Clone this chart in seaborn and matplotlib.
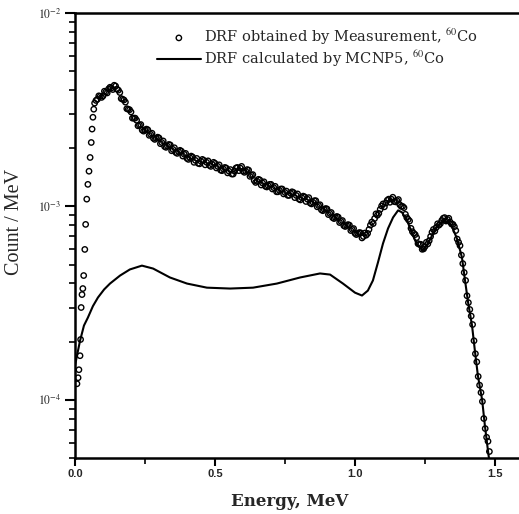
import matplotlib
matplotlib.use("Agg")
import matplotlib.pyplot as plt
import matplotlib.ticker as mticker
import seaborn as sns
import pandas as pd
import numpy as np

# ---- data (Count / MeV, stored in units of 1e-4) ----
# measured channels (first set)
meas_energy = [
    0.007, 0.011, 0.014, 0.018, 0.020, 0.022, 0.025, 0.028, 0.031, 0.035,
    0.038, 0.042, 0.046, 0.050, 0.054, 0.058, 0.061, 0.064, 0.067, 0.070, 0.075,
    0.08, 0.09, 0.10, 0.11, 0.12, 0.13, 0.14, 0.15, 0.16, 0.17,
    0.18, 0.19, 0.20, 0.21, 0.22, 0.23, 0.24, 0.25, 0.26, 0.27,
    0.28, 0.29, 0.30, 0.31, 0.32, 0.33, 0.34, 0.35, 0.36, 0.37,
    0.38, 0.39, 0.40, 0.41, 0.42, 0.43, 0.44, 0.45, 0.46, 0.47,
    0.48, 0.49, 0.50, 0.51, 0.52, 0.53, 0.54, 0.55, 0.56, 0.57,
    0.58, 0.59, 0.60, 0.61, 0.62, 0.63, 0.64, 0.65, 0.66, 0.67,
    0.68, 0.69, 0.70, 0.71, 0.72, 0.73, 0.74, 0.75, 0.76, 0.77,
    0.78, 0.79, 0.80, 0.81, 0.82, 0.83, 0.84, 0.85, 0.86, 0.87,
    0.88, 0.89, 0.90, 0.91, 0.92, 0.93, 0.94, 0.95, 0.96, 0.97,
    0.98, 0.99, 1.00, 1.01, 1.02, 1.03, 1.04, 1.05, 1.06, 1.07,
    1.08, 1.09, 1.10, 1.11, 1.12, 1.13, 1.14, 1.15, 1.16, 1.17,
    1.18, 1.19, 1.20, 1.21, 1.22, 1.23, 1.24, 1.25, 1.26, 1.27,
    1.28, 1.29, 1.30, 1.31, 1.32, 1.33, 1.34, 1.35, 1.36, 1.37,
    1.38, 1.39, 1.40, 1.41, 1.42, 1.43, 1.44, 1.45, 1.46, 1.47, 1.48,
]
meas_count_e4 = [
    1.21, 1.30, 1.43, 1.69, 2.05, 3.00, 3.50, 3.76, 4.39, 5.99,
    8.07, 10.9, 13.0, 15.2, 17.9, 21.4, 25.1, 28.9, 31.8, 34.2, 35.3,
    35.8, 37.1, 37.2, 39.0, 40.5, 40.9, 42.3, 40.4, 38.8, 35.8,
    34.6, 31.8, 30.8, 28.6, 27.9, 26.3, 24.8, 24.8, 24.9, 23.6,
    22.5, 22.5, 22.6, 21.4, 20.4, 20.5, 20.8, 19.7, 19.0, 19.2,
    19.3, 18.6, 17.7, 17.9, 18.0, 17.3, 16.7, 17.1, 17.3, 16.9,
    16.3, 16.5, 16.7, 16.1, 15.4, 15.6, 15.8, 15.2, 14.7, 15.2,
    15.9, 15.8, 15.2, 15.2, 15.4, 14.5, 13.6, 13.5, 13.7, 13.2,
    12.7, 12.8, 13.0, 12.5, 11.9, 12.1, 12.3, 11.8, 11.4, 11.7,
    11.8, 11.4, 10.9, 11.1, 11.2, 10.9, 10.4, 10.5, 10.7, 10.1,
    9.6, 9.65, 9.7, 9.20, 8.75, 8.77, 8.8, 8.36, 7.95, 7.97,
    8.0, 7.60, 7.25, 7.25, 7.3, 6.99, 7.1, 7.60, 8.3, 8.66,
    9.0, 9.65, 10.3, 10.4, 10.9, 10.9, 10.6, 10.7, 10.2, 10.0,
    9.1, 8.56, 7.7, 7.25, 6.9, 6.36, 6.0, 6.20, 6.4, 6.99,
    7.6, 7.78, 8.0, 8.46, 8.75, 8.56, 8.3, 8.07, 7.5, 6.52,
    5.6, 4.55, 3.45, 2.93, 2.45, 1.73, 1.32, 1.09, 0.80, 0.64, 0.54,
]
# measured channels (second set, in between)
meas_energy_mid = [
    0.085, 0.095, 0.105, 0.115, 0.125, 0.135, 0.145, 0.155, 0.165, 0.175,
    0.185, 0.195, 0.205, 0.215, 0.225, 0.235, 0.245, 0.255, 0.265, 0.275,
    0.285, 0.295, 0.305, 0.315, 0.325, 0.335, 0.345, 0.355, 0.365, 0.375,
    0.385, 0.395, 0.405, 0.415, 0.425, 0.435, 0.445, 0.455, 0.465, 0.475,
    0.485, 0.495, 0.505, 0.515, 0.525, 0.535, 0.545, 0.555, 0.565, 0.575,
    0.585, 0.595, 0.605, 0.615, 0.625, 0.635, 0.645, 0.655, 0.665, 0.675,
    0.685, 0.695, 0.705, 0.715, 0.725, 0.735, 0.745, 0.755, 0.765, 0.775,
    0.785, 0.795, 0.805, 0.815, 0.825, 0.835, 0.845, 0.855, 0.865, 0.875,
    0.885, 0.895, 0.905, 0.915, 0.925, 0.935, 0.945, 0.955, 0.965, 0.975,
    0.985, 0.995, 1.005, 1.015, 1.025, 1.035, 1.045, 1.055, 1.065, 1.075,
    1.085, 1.095, 1.105, 1.115, 1.125, 1.135, 1.145, 1.155, 1.165, 1.175,
    1.185, 1.195, 1.205, 1.215, 1.225, 1.235, 1.245, 1.255, 1.265, 1.275,
    1.285, 1.295, 1.305, 1.315, 1.325, 1.335, 1.345, 1.355, 1.365, 1.375,
    1.385, 1.395, 1.405, 1.415, 1.425, 1.435, 1.445, 1.455, 1.465, 1.475,
]
meas_count_mid_e4 = [
    37.3, 36.6, 39.4, 38.6, 41.3, 40.2, 41.9, 39.9, 36.1, 35.5,
    32.0, 31.6, 28.6, 28.6, 26.1, 26.5, 24.5, 25.1, 23.3, 23.9,
    22.2, 22.8, 21.1, 21.8, 20.2, 20.9, 19.4, 20.1, 18.8, 19.5,
    18.2, 18.8, 17.5, 18.2, 16.9, 17.7, 16.6, 17.5, 16.4, 17.2,
    16.1, 16.9, 15.8, 16.4, 15.3, 15.9, 14.9, 15.5, 14.7, 15.8,
    15.3, 16.1, 15.0, 15.5, 14.3, 14.6, 13.3, 13.8, 12.9, 13.4,
    12.6, 13.0, 12.3, 12.7, 11.9, 12.3, 11.6, 12.0, 11.4, 11.9,
    11.1, 11.6, 10.8, 11.3, 10.6, 11.1, 10.3, 10.7, 9.95, 10.2,
    9.5, 9.75, 9.07, 9.3, 8.65, 8.87, 8.25, 8.45, 7.87, 8.05,
    7.5, 7.68, 7.15, 7.32, 6.87, 7.28, 7.25, 8.0, 8.15, 9.15,
    9.2, 10.05, 9.95, 10.75, 10.5, 11.15, 10.55, 10.85, 10.0, 9.85,
    8.75, 8.4, 7.4, 7.15, 6.42, 6.37, 6.03, 6.52, 6.65, 7.35,
    7.45, 8.13, 8.15, 8.68, 8.4, 8.68, 8.1, 7.85, 6.78, 6.27,
    5.06, 4.14, 3.18, 2.71, 2.02, 1.57, 1.19, 0.98, 0.71, 0.61,
]

mcnp_energy = [
    0.000, 0.007, 0.018, 0.032, 0.046, 0.064, 0.082, 0.104, 0.125, 0.161,
    0.196, 0.239, 0.279, 0.339, 0.400, 0.471, 0.554, 0.636, 0.721, 0.804,
    0.875, 0.911, 0.957, 1.000, 1.025, 1.046, 1.064, 1.082, 1.100, 1.118,
    1.136, 1.154, 1.168, 1.186, 1.204, 1.221, 1.243, 1.261, 1.279, 1.296,
    1.314, 1.332, 1.346, 1.364, 1.382, 1.393, 1.404, 1.418, 1.429, 1.439,
    1.454, 1.464, 1.475, 1.482,
]
mcnp_count_e4 = [
    1.50, 1.69, 2.02, 2.42, 2.66, 3.05, 3.38, 3.72, 3.99, 4.39,
    4.72, 4.94, 4.77, 4.29, 3.99, 3.80, 3.76, 3.80, 3.99, 4.29,
    4.50, 4.44, 3.99, 3.58, 3.46, 3.67, 4.14, 5.13, 6.43, 7.69,
    8.77, 9.54, 9.31, 8.46, 7.25, 6.36, 5.92, 6.43, 7.25, 7.97,
    8.36, 8.26, 7.88, 6.83, 5.44, 4.14, 3.18, 2.42, 1.75, 1.33,
    1.00, 0.733, 0.544, 0.455,
]

x_ticks = [0.0, 0.5, 1.0, 1.5]
x_tick_labels = ["0.0", "0.5", "1.0", "1.5"]
y_ticks = [1e-4, 1e-3, 1e-2]
y_tick_labels = [r"$10^{-4}$", r"$10^{-3}$", r"$10^{-2}$"]
label_meas = r"DRF obtained by Measurement, $^{60}$Co"
label_mcnp = r"DRF calculated by MCNP5, $^{60}$Co"

assert len(meas_energy) == len(meas_count_e4)
assert len(meas_energy_mid) == len(meas_count_mid_e4)
assert len(mcnp_energy) == len(mcnp_count_e4)

meas_df = pd.DataFrame({
    "Energy": meas_energy + meas_energy_mid,
    "Count": np.array(meas_count_e4 + meas_count_mid_e4) * 1e-4,
})
mcnp_df = pd.DataFrame({"Energy": mcnp_energy,
                        "Count": np.array(mcnp_count_e4) * 1e-4})

# ---- style ----
sns.set_theme(style="ticks")
plt.rcParams["font.family"] = ["Liberation Serif", "DejaVu Serif"]
plt.rcParams["mathtext.fontset"] = "stix"

fig = plt.figure(figsize=(5.19, 5.14), dpi=100)
ax = fig.add_axes([75 / 519, 1 - 458 / 514, 448 / 519, 445 / 514])

sns.lineplot(data=mcnp_df, x="Energy", y="Count", ax=ax, color="black",
             linewidth=1.5, label=label_mcnp, sort=False, zorder=2)
sns.scatterplot(data=meas_df, x="Energy", y="Count", ax=ax, marker="o",
                s=15, facecolor="none", edgecolor="black", linewidth=1.0,
                label=label_meas, zorder=3)

ax.set_yscale("log")
ax.set_xlim(0, 1.6)
ax.set_ylim(5e-5, 1e-2)

ax.set_xticks(x_ticks)
ax.set_xticklabels(x_tick_labels)
ax.xaxis.set_minor_locator(mticker.FixedLocator([0.25, 0.75, 1.25]))
ax.set_yticks(y_ticks)
ax.set_yticklabels(y_tick_labels)
ax.yaxis.set_minor_locator(mticker.LogLocator(base=10, subs=np.arange(2, 10)))
ax.yaxis.set_minor_formatter(mticker.NullFormatter())

for lab in ax.get_xticklabels():
    lab.set_family(["Liberation Sans", "DejaVu Sans"])
    lab.set_fontweight("bold")
    lab.set_fontsize(8)
for lab in ax.get_yticklabels():
    lab.set_fontsize(8.5)

ax.tick_params(axis="x", which="major", direction="out", length=6,
               width=1.5, color="black", pad=2)
ax.tick_params(axis="y", which="major", direction="out", length=7,
               width=1.5, color="black", pad=3)
ax.tick_params(axis="both", which="minor", direction="out", length=4,
               width=1.2, color="black")

for side in ["left", "bottom", "top", "right"]:
    ax.spines[side].set_visible(True)
    ax.spines[side].set_linewidth(1.8)
    ax.spines[side].set_color("black")

ax.set_xlabel("Energy, MeV", fontsize=12, fontweight="bold",
              family=["DejaVu Serif"])
ax.xaxis.set_label_coords(0.48, -0.078)
ax.set_ylabel("Count / MeV", fontsize=14.5)
ax.yaxis.set_label_coords(-0.114, 0.53)

handles, labels = ax.get_legend_handles_labels()
order = [labels.index(label_meas), labels.index(label_mcnp)]
leg = ax.legend([handles[i] for i in order], [labels[i] for i in order],
                loc="upper left", bbox_to_anchor=(0.183, 0.97),
                frameon=False, handlelength=3.0,
                handletextpad=0.25, labelspacing=0.12, borderaxespad=0,
                borderpad=0, markerscale=1.0,
                prop={"family": ["DejaVu Serif"], "size": 10.5})

fig.savefig("out.png", dpi=100)
